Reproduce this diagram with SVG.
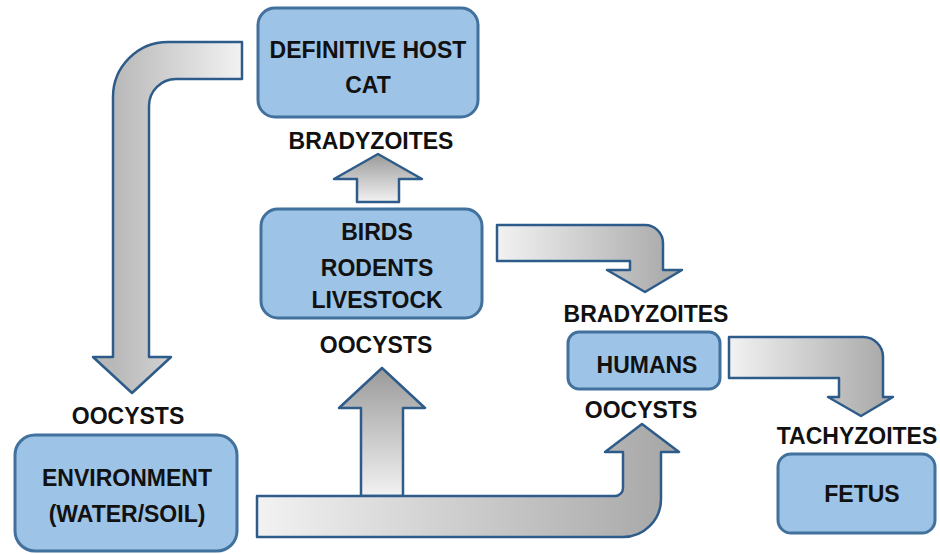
<svg xmlns="http://www.w3.org/2000/svg" width="940" height="554" viewBox="0 0 940 554">
<style>
.box{fill:#9dc3e6;stroke:#41719c;stroke-width:3}
.arr{stroke:#2e5c8a;stroke-width:2.5;stroke-linejoin:round}
text{font-family:"Liberation Sans",Arial,sans-serif;font-weight:bold;font-size:23px;fill:#111;text-anchor:middle}
</style>
<defs>
<linearGradient id="gCat" gradientUnits="userSpaceOnUse" x1="113" y1="0" x2="242" y2="0">
<stop offset="0" stop-color="#b8b8b8"/><stop offset="1" stop-color="#f2f2f2"/>
</linearGradient>
<linearGradient id="gUpSmall" gradientUnits="userSpaceOnUse" x1="0" y1="154" x2="0" y2="202">
<stop offset="0" stop-color="#9a9a9a"/><stop offset="1" stop-color="#f2f2f2"/>
</linearGradient>
<linearGradient id="gUpBig" gradientUnits="userSpaceOnUse" x1="0" y1="368" x2="0" y2="496">
<stop offset="0" stop-color="#9a9a9a"/><stop offset="1" stop-color="#f2f2f2"/>
</linearGradient>
<linearGradient id="gBH" gradientUnits="userSpaceOnUse" x1="497" y1="0" x2="682" y2="0">
<stop offset="0" stop-color="#f2f2f2"/><stop offset="1" stop-color="#a6a6a6"/>
</linearGradient>
<linearGradient id="gHF" gradientUnits="userSpaceOnUse" x1="729" y1="0" x2="893" y2="0">
<stop offset="0" stop-color="#f2f2f2"/><stop offset="1" stop-color="#a6a6a6"/>
</linearGradient>
<linearGradient id="gBot" gradientUnits="userSpaceOnUse" x1="257" y1="0" x2="680" y2="0">
<stop offset="0" stop-color="#f2f2f2"/><stop offset="1" stop-color="#a6a6a6"/>
</linearGradient>
</defs>

<g id="connectors">
<path id="cat-to-env" class="arr" fill="url(#gCat)" d="M242,42 H168 A55 55 0 0 0 113 97 V357 H93 L132,393 L171,357 H149 V106 A27 27 0 0 1 176 79 H242 Z"/>
<path id="birds-to-cat" class="arr" fill="url(#gUpSmall)" d="M357,202 V179 H334 L378,154 L422,179 H399 V202 Z"/>
<path id="birds-to-humans" class="arr" fill="url(#gBH)" d="M497,225 H645 A18 18 0 0 1 663 243 V270 H682 L645,292 L607,270 H630 V261 H497 Z"/>
<path id="humans-to-fetus" class="arr" fill="url(#gHF)" d="M729,337 H863 A20 20 0 0 1 883 357 V397 H893 L861,416 L828,397 H839 V378 H729 Z"/>
<path id="env-to-birds" class="arr" fill="url(#gUpBig)" d="M361,496 V408 H339 L382,368 L425,408 H403 V496 Z"/>
<path id="env-to-humans" class="arr" fill="url(#gBot)" d="M257,496 H615 A8 8 0 0 0 623 488 V452 H605 L642,424 L679,452 H661 V499 A38 38 0 0 1 623 537 H257 Z"/>
</g>

<g id="cat">
<rect class="box" x="258" y="8" width="220" height="109" rx="17"/>
<text x="368" y="58">DEFINITIVE HOST</text>
<text x="368" y="93">CAT</text>
</g>
<g id="label-bradyzoites-cat"><text x="371" y="149">BRADYZOITES</text></g>

<g id="birds">
<rect class="box" x="261" y="209" width="221" height="109" rx="17"/>
<text x="377" y="240">BIRDS</text>
<text x="377" y="276">RODENTS</text>
<text x="377" y="308">LIVESTOCK</text>
</g>
<g id="label-oocysts-birds"><text x="376" y="353">OOCYSTS</text></g>

<g id="label-bradyzoites-humans"><text x="646" y="322">BRADYZOITES</text></g>
<g id="humans">
<rect class="box" x="568" y="332" width="152" height="57" rx="11"/>
<text x="647" y="373">HUMANS</text>
</g>
<g id="label-oocysts-humans"><text x="641" y="418">OOCYSTS</text></g>

<g id="label-tachyzoites"><text x="857" y="444">TACHYZOITES</text></g>
<g id="fetus">
<rect class="box" x="778" y="454" width="157" height="79" rx="13"/>
<text x="862" y="502">FETUS</text>
</g>

<g id="label-oocysts-env"><text x="128" y="424">OOCYSTS</text></g>
<g id="environment">
<rect class="box" x="15" y="435" width="222" height="116" rx="20"/>
<text x="127" y="486">ENVIRONMENT</text>
<text x="127" y="522">(WATER/SOIL)</text>
</g>
</svg>
